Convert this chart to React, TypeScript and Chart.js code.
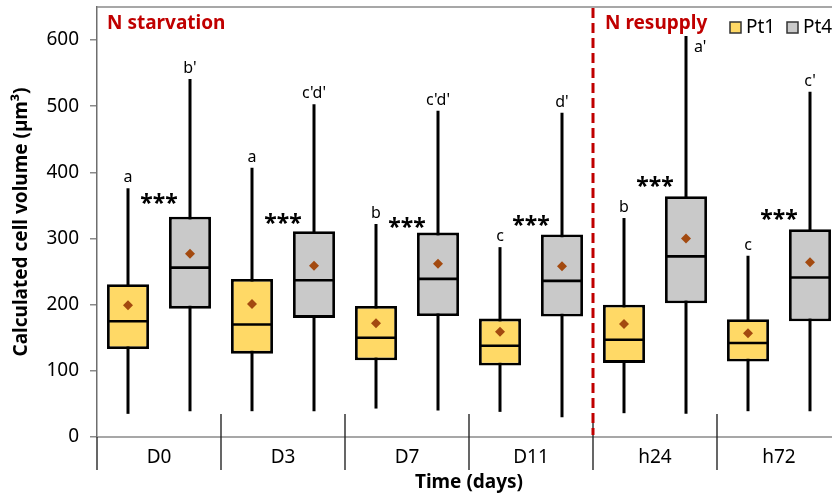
import { useEffect, useRef } from 'react';
import { Chart, registerables } from 'chart.js';

Chart.register(...registerables);

// ---------- data ----------
const categories = ['D0', 'D3', 'D7', 'D11', 'h24', 'h72'];

const pt1Min = [35, 39, 43, 38, 36, 39];
const pt1Q1 = [133, 126, 116, 108, 112, 114];
const pt1Median = [175, 170, 150, 138, 147, 142];
const pt1Q3 = [231, 239, 198, 179, 200, 178];
const pt1Max = [376, 407, 322, 287, 331, 274];
const pt1Mean = [199, 201, 172, 159, 171, 157];

const pt4Min = [39, 39, 40, 30, 35, 39];
const pt4Q1 = [194, 180, 183, 182, 202, 175];
const pt4Median = [256, 237, 239, 236, 273, 241];
const pt4Q3 = [333, 311, 309, 306, 364, 314];
const pt4Max = [541, 503, 493, 490, 606, 522];
const pt4Mean = [277, 259, 262, 258, 300, 264];

const pt1Letters = ['a', 'a', 'b', 'c', 'b', 'c'];
const pt4Letters = ["b'", "c'd'", "c'd'", "d'", "a'", "c'"];
const pt4LetterSide = ['above', 'above', 'above', 'above', 'right', 'above'];

const sigMarks = ['***', '***', '***', '***', '***', '***'];
const sigLevel = [361, 331, 325, 327, 386, 337];

const yTicksMax = 600;
const phaseLabels = ['N starvation', 'N resupply'];
const resupplyStartIndex = 4;

const seriesNames = ['Pt1', 'Pt4'];
const seriesColors = ['#FFD966', '#C9C9C9'];

const FONT = '"Noto Sans", "DejaVu Sans", sans-serif';
const RED = '#C00000';

const stats = [
  { min: pt1Min, median: pt1Median, max: pt1Max, mean: pt1Mean },
  { min: pt4Min, median: pt4Median, max: pt4Max, mean: pt4Mean },
];

export default function App() {
  const ref = useRef<HTMLCanvasElement>(null);

  useEffect(() => {
    const canvas = ref.current;
    if (!canvas) return;

    const overlay = {
      id: 'boxOverlay',
      beforeDatasetsDraw(chart: any) {
        const { ctx } = chart;
        const y = chart.scales.y;
        ctx.save();
        ctx.strokeStyle = '#000';
        ctx.lineWidth = 3;
        stats.forEach((s, di) => {
          const meta = chart.getDatasetMeta(di);
          meta.data.forEach((el: any, i: number) => {
            ctx.beginPath();
            ctx.moveTo(el.x, y.getPixelForValue(s.min[i]));
            ctx.lineTo(el.x, y.getPixelForValue(s.max[i]));
            ctx.stroke();
          });
        });
        ctx.restore();
      },
      afterDatasetsDraw(chart: any) {
        const { ctx } = chart;
        const y = chart.scales.y;
        ctx.save();
        stats.forEach((s, di) => {
          const meta = chart.getDatasetMeta(di);
          meta.data.forEach((el: any, i: number) => {
            const half = el.width / 2;
            const ym = y.getPixelForValue(s.median[i]);
            ctx.strokeStyle = '#000';
            ctx.lineWidth = 2.6;
            ctx.beginPath();
            ctx.moveTo(el.x - half + 1, ym);
            ctx.lineTo(el.x + half - 1, ym);
            ctx.stroke();
            const yMean = y.getPixelForValue(s.mean[i]);
            const d = 5;
            ctx.fillStyle = '#A34A10';
            ctx.beginPath();
            ctx.moveTo(el.x, yMean - d);
            ctx.lineTo(el.x + d, yMean);
            ctx.lineTo(el.x, yMean + d);
            ctx.lineTo(el.x - d, yMean);
            ctx.closePath();
            ctx.fill();
          });
        });

        // group letters
        ctx.fillStyle = '#000';
        ctx.font = `16px ${FONT}`;
        ctx.textBaseline = 'alphabetic';
        const m1 = chart.getDatasetMeta(0);
        const m4 = chart.getDatasetMeta(1);
        m1.data.forEach((el: any, i: number) => {
          ctx.textAlign = 'center';
          ctx.fillText(pt1Letters[i], el.x, y.getPixelForValue(pt1Max[i]) - 6);
        });
        m4.data.forEach((el: any, i: number) => {
          const top = y.getPixelForValue(pt4Max[i]);
          if (pt4LetterSide[i] === 'right') {
            ctx.textAlign = 'left';
            ctx.fillText(pt4Letters[i], el.x + 8, top + 16);
          } else {
            ctx.textAlign = 'center';
            ctx.fillText(pt4Letters[i], el.x, top - 6);
          }
        });

        // significance stars
        const x = chart.scales.x;
        ctx.font = `bold 23px ${FONT}`;
        ctx.textAlign = 'center';
        categories.forEach((_, i) => {
          const mt = ctx.measureText(sigMarks[i]);
          const cy = y.getPixelForValue(sigLevel[i]);
          const base = cy + (mt.actualBoundingBoxAscent - mt.actualBoundingBoxDescent) / 2;
          ctx.fillText(sigMarks[i], x.getPixelForValue(i), base);
        });
        ctx.restore();
      },
      afterDraw(chart: any) {
        const { ctx, chartArea } = chart;
        const x = chart.scales.x;
        const { left, right, top, bottom } = chartArea;
        const catW = (right - left) / categories.length;
        ctx.save();

        // top border line
        ctx.strokeStyle = '#8a8a8a';
        ctx.lineWidth = 1.5;
        ctx.beginPath();
        ctx.moveTo(left, top);
        ctx.lineTo(right, top);
        ctx.stroke();

        // x axis line
        ctx.strokeStyle = '#8a8a8a';
        ctx.lineWidth = 1.3;
        ctx.beginPath();
        ctx.moveTo(left, bottom);
        ctx.lineTo(right, bottom);
        ctx.stroke();

        // category separators
        ctx.strokeStyle = '#262626';
        ctx.lineWidth = 1.4;
        for (let i = 0; i <= categories.length; i++) {
          const sx = x.getPixelForValue(i) - catW / 2;
          ctx.beginPath();
          ctx.moveTo(sx, i === 0 ? bottom : bottom - 23);
          ctx.lineTo(sx, bottom + 33);
          ctx.stroke();
        }

        // dashed phase divider
        const dx = x.getPixelForValue(resupplyStartIndex) - catW / 2;
        ctx.strokeStyle = RED;
        ctx.lineWidth = 3;
        ctx.setLineDash([10, 5]);
        ctx.beginPath();
        ctx.moveTo(dx, top + 1);
        ctx.lineTo(dx, bottom - 2);
        ctx.stroke();
        ctx.setLineDash([]);

        // phase labels
        ctx.fillStyle = RED;
        ctx.font = `bold 19px ${FONT}`;
        ctx.textAlign = 'left';
        ctx.textBaseline = 'alphabetic';
        ctx.fillText(phaseLabels[0], left + 10, top + 22);
        ctx.fillText(phaseLabels[1], dx + 12, top + 22);

        // legend
        const lx = [730, 787];
        ctx.font = `19px ${FONT}`;
        seriesNames.forEach((name, i) => {
          ctx.fillStyle = seriesColors[i];
          ctx.fillRect(lx[i], 22, 11, 11);
          ctx.strokeStyle = '#333';
          ctx.lineWidth = 1.5;
          ctx.strokeRect(lx[i], 22, 11, 11);
          ctx.fillStyle = '#000';
          ctx.fillText(name, lx[i] + 16, 33);
        });

        // category labels
        ctx.fillStyle = '#000';
        ctx.font = `19px ${FONT}`;
        ctx.textAlign = 'center';
        categories.forEach((c, i) => {
          ctx.fillText(c, x.getPixelForValue(i), bottom + 26);
        });

        // axis titles
        ctx.font = `bold 19px ${FONT}`;
        ctx.fillText('Time (days)', (left + right) / 2, bottom + 51);
        ctx.translate(27, (top + bottom) / 2);
        ctx.rotate(-Math.PI / 2);
        ctx.fillText('Calculated cell volume (µm³)', 0, 0);
        ctx.restore();
      },
    };

    const chart = new Chart(canvas, {
      type: 'bar',
      data: {
        labels: categories,
        datasets: [
          {
            label: seriesNames[0],
            data: categories.map((_, i) => [pt1Q1[i], pt1Q3[i]]),
            backgroundColor: seriesColors[0],
            borderColor: '#000',
            borderWidth: 2.8,
            borderSkipped: false,
            categoryPercentage: 1,
            barPercentage: 0.677,
          },
          {
            label: seriesNames[1],
            data: categories.map((_, i) => [pt4Q1[i], pt4Q3[i]]),
            backgroundColor: seriesColors[1],
            borderColor: '#000',
            borderWidth: 2.8,
            borderSkipped: false,
            categoryPercentage: 1,
            barPercentage: 0.677,
          },
        ],
      },
      options: {
        responsive: false,
        animation: false,
        layout: { padding: { left: 0, top: 7, right: 9, bottom: 0 } },
        plugins: {
          legend: { display: false },
          tooltip: { enabled: false },
          title: { display: false },
        },
        scales: {
          x: {
            grid: { display: false },
            border: { display: false },
            ticks: { display: false },
            afterFit: (s: any) => {
              s.height = 58;
              s.paddingLeft = 0;
              s.paddingRight = 0;
            },
          },
          y: {
            min: 0,
            max: 650,
            stacked: false,
            afterFit: (s: any) => {
              s.width = 97;
              s.paddingTop = 0;
              s.paddingBottom = 0;
            },
            ticks: {
              stepSize: 100,
              includeBounds: false,
              padding: 11,
              color: '#000',
              font: { family: FONT, size: 19 },
              callback: (v: any) => (v <= yTicksMax ? String(v) : ''),
            },
            grid: {
              drawOnChartArea: false,
              drawTicks: true,
              tickLength: 7,
              color: '#8a8a8a',
              lineWidth: 1.5,
            },
            border: { display: true, color: '#6e6e6e', width: 1.5 },
          },
        },
      },
      plugins: [overlay],
    } as any);

    return () => chart.destroy();
  }, []);

  return (
    <div
      style={{
        position: 'fixed',
        left: 0,
        top: 0,
        width: 832,
        height: 495,
        overflow: 'hidden',
        background: '#fff',
      }}
    >
      <canvas ref={ref} width={850} height={495} style={{ display: 'block' }} />
    </div>
  );
}
